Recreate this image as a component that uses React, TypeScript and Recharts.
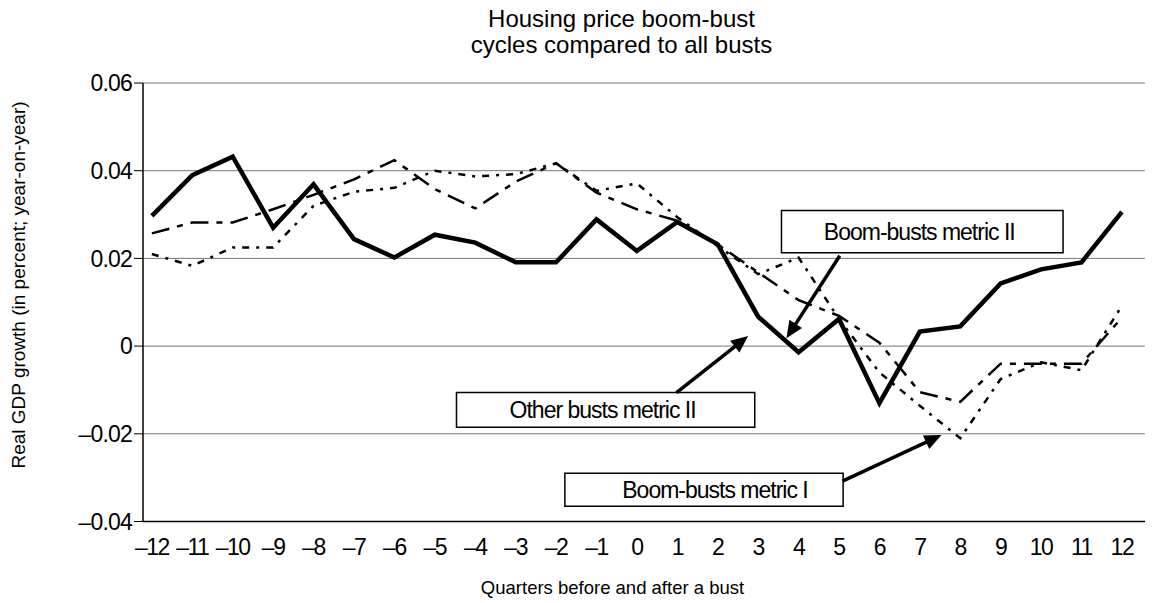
import React from 'react';
import { LineChart, Line, XAxis, YAxis, CartesianGrid, ReferenceArea, ReferenceLine, Label } from 'recharts';

const FONT = '"Liberation Sans", Arial, Helvetica, sans-serif';

const QUARTERS = [-12, -11, -10, -9, -8, -7, -6, -5, -4, -3, -2, -1, 0, 1, 2, 3, 4, 5, 6, 7, 8, 9, 10, 11, 12];

const BOOM_BUSTS_II = [
  0.0297, 0.039, 0.0432, 0.027, 0.0369, 0.0244, 0.0202, 0.0254, 0.0236, 0.0191, 0.0191, 0.0289, 0.0217,
  0.0283, 0.0232, 0.0067, -0.0014, 0.0062, -0.013, 0.0033, 0.0045, 0.0143, 0.0175, 0.0191, 0.0306,
];

const OTHER_BUSTS_II = [
  0.0257, 0.0282, 0.0282, 0.0312, 0.0345, 0.038, 0.0424, 0.0358, 0.0314, 0.0375, 0.0417, 0.035, 0.0312,
  0.0286, 0.0232, 0.0168, 0.0105, 0.0069, 0.0008, -0.0105, -0.0127, -0.004, -0.004, -0.004, 0.0065,
];

const BOOM_BUSTS_I = [
  0.021, 0.0183, 0.0225, 0.0225, 0.032, 0.0352, 0.0361, 0.04, 0.0387, 0.0392, 0.0417, 0.0354, 0.0371,
  0.0294, 0.0228, 0.0164, 0.0202, 0.0062, -0.006, -0.0136, -0.021, -0.0075, -0.0037, -0.0055, 0.0092,
];

const Y_TICKS = [-0.04, -0.02, 0, 0.02, 0.04, 0.06];
const X_DOMAIN: [number, number] = [-12.22, 12.72];
const Y_DOMAIN: [number, number] = [-0.04, 0.06];
const TICK_MARKS = [...QUARTERS.slice(0, -1).map((q) => q + 0.46), X_DOMAIN[1]];

const TITLE_LINES = ['Housing price boom-bust', 'cycles compared to all busts'];
const Y_LABEL = 'Real GDP growth (in percent; year-on-year)';
const X_LABEL = 'Quarters before and after a bust';

// annotation boxes (data space) and arrows (data space)
const BOXES = [
  { text: 'Boom-busts metric II', x1: 3.577, x2: 10.544, y1: 0.0213, y2: 0.0309, dx: -3 },
  { text: 'Other busts metric II', x1: -4.464, x2: 2.916, y1: -0.0185, y2: -0.0106, dx: -3 },
  { text: 'Boom-busts metric I', x1: -1.782, x2: 5.103, y1: -0.0365, y2: -0.029, dx: 11 },
];
const ARROWS = [
  { from: { x: 5.02, y: 0.0206 }, to: { x: 3.7, y: 0.0018 } },
  { from: { x: 0.98, y: -0.0106 }, to: { x: 2.753, y: 0.0023 } },
  { from: { x: 5.088, y: -0.0308 }, to: { x: 7.537, y: -0.0203 } },
];

const data = QUARTERS.map((q, i) => ({
  q,
  boomII: BOOM_BUSTS_II[i],
  otherII: OTHER_BUSTS_II[i],
  boomI: BOOM_BUSTS_I[i],
}));

const fmtX = (v: number) => (v < 0 ? '\u2013' + Math.abs(v) : String(v));
const fmtY = (v: number) => (v === 0 ? '0' : v < 0 ? '\u2013' + Math.abs(v).toFixed(2) : v.toFixed(2));

const MarkTick = (props: any) => {
  const { x, y } = props;
  return <line x1={x} x2={x} y1={y + 3} y2={y + 10.5} stroke="#000" strokeWidth={1} />;
};

const Arrow = (props: any) => {
  const { x1, y1, x2, y2 } = props;
  const dx = x2 - x1;
  const dy = y2 - y1;
  const len = Math.hypot(dx, dy) || 1;
  const ux = dx / len;
  const uy = dy / len;
  const headLen = 17;
  const headW = 7.5;
  const bx = x2 - ux * headLen;
  const by = y2 - uy * headLen;
  const px = -uy;
  const py = ux;
  return (
    <g>
      <line x1={x1} y1={y1} x2={bx + ux * 2} y2={by + uy * 2} stroke="#000" strokeWidth={3.5} />
      <polygon
        points={`${x2},${y2} ${bx + px * headW},${by + py * headW} ${bx - px * headW},${by - py * headW}`}
        fill="#000"
      />
    </g>
  );
};

const boxLabel = (text: string, dx: number) => (p: any) => {
  const vb = p.viewBox || {};
  const cx = vb.x + vb.width / 2 + dx;
  const cy = vb.y + vb.height / 2;
  return (
    <text x={cx} y={cy + 8} textAnchor="middle" fontFamily={FONT} fontSize={23} letterSpacing={-1} fill="#000">
      {text}
    </text>
  );
};

export default function App() {
  return (
    <div style={{ position: 'relative', width: 1145, height: 595 }}>
      <LineChart
        width={1145}
        height={595}
        data={data}
        margin={{ top: 75, right: 2, bottom: 51.5, left: 0 }}
      >
        <CartesianGrid vertical={false} stroke="#777" strokeWidth={1} xAxisId="main" />
        <XAxis
          xAxisId="marks"
          type="number"
          dataKey="q"
          domain={X_DOMAIN}
          ticks={TICK_MARKS}
          allowDataOverflow
          height={0}
          axisLine={false}
          tickLine={false}
          tickSize={0}
          tickMargin={0}
          tick={<MarkTick />}
          interval={0}
        />
        <XAxis
          xAxisId="main"
          type="number"
          dataKey="q"
          domain={X_DOMAIN}
          ticks={QUARTERS}
          allowDataOverflow
          interval={0}
          height={30}
          axisLine={{ stroke: '#000', strokeWidth: 1.5 }}
          tickLine={false}
          tickSize={0}
          tickMargin={17}
          tickFormatter={fmtX}
          tick={{ fill: '#000', fontSize: 23, fontFamily: FONT, letterSpacing: -1.5 }}
        />
        <YAxis
          type="number"
          domain={Y_DOMAIN}
          ticks={Y_TICKS}
          interval={0}
          width={135}
          axisLine={{ stroke: '#000', strokeWidth: 1.5 }}
          tickLine={{ stroke: '#000' }}
          tickSize={9}
          tickMargin={2}
          tickFormatter={fmtY}
          tick={{ fill: '#000', fontSize: 23, fontFamily: FONT, letterSpacing: -0.8 }}
        />
        <ReferenceLine xAxisId="main" x={X_DOMAIN[1]} stroke="#808080" strokeWidth={1.5} />
        <Line
          xAxisId="main"
          type="linear"
          dataKey="otherII"
          stroke="#000"
          strokeWidth={2.5}
          strokeDasharray="18 8 6 8"
          dot={false}
          activeDot={false}
          isAnimationActive={false}
        />
        <Line
          xAxisId="main"
          type="linear"
          dataKey="boomI"
          stroke="#000"
          strokeWidth={2.5}
          strokeDasharray="7 7 3 7"
          dot={false}
          activeDot={false}
          isAnimationActive={false}
        />
        <Line
          xAxisId="main"
          type="linear"
          dataKey="boomII"
          stroke="#000"
          strokeWidth={4.5}
          dot={false}
          activeDot={false}
          isAnimationActive={false}
        />
        {BOXES.map((b) => (
          <ReferenceArea
            key={b.text}
            xAxisId="main"
            x1={b.x1}
            x2={b.x2}
            y1={b.y1}
            y2={b.y2}
            fill="#fff"
            fillOpacity={1}
            stroke="#000"
            strokeWidth={1.5}
            ifOverflow="visible"
          >
            <Label content={boxLabel(b.text, b.dx)} />
          </ReferenceArea>
        ))}
        {ARROWS.map((a, i) => (
          <ReferenceLine
            key={i}
            xAxisId="main"
            segment={[a.from, a.to]}
            ifOverflow="visible"
            shape={<Arrow />}
          />
        ))}
      </LineChart>
      <svg
        width={1153}
        height={603}
        style={{ position: 'absolute', left: -8, top: -8, pointerEvents: 'none' }}
      >
        <text x={621.5} y={26.5} textAnchor="middle" fontFamily={FONT} fontSize={24} fill="#000">
          {TITLE_LINES[0]}
        </text>
        <text x={621.5} y={53} textAnchor="middle" fontFamily={FONT} fontSize={24} fill="#000">
          {TITLE_LINES[1]}
        </text>
        <text
          x={25}
          y={285}
          transform="rotate(-90, 25, 285)"
          textAnchor="middle"
          fontFamily={FONT}
          fontSize={19}
          fill="#000"
        >
          {Y_LABEL}
        </text>
        <text x={612.5} y={594} textAnchor="middle" fontFamily={FONT} fontSize={18.5} fill="#000">
          {X_LABEL}
        </text>
      </svg>
    </div>
  );
}
